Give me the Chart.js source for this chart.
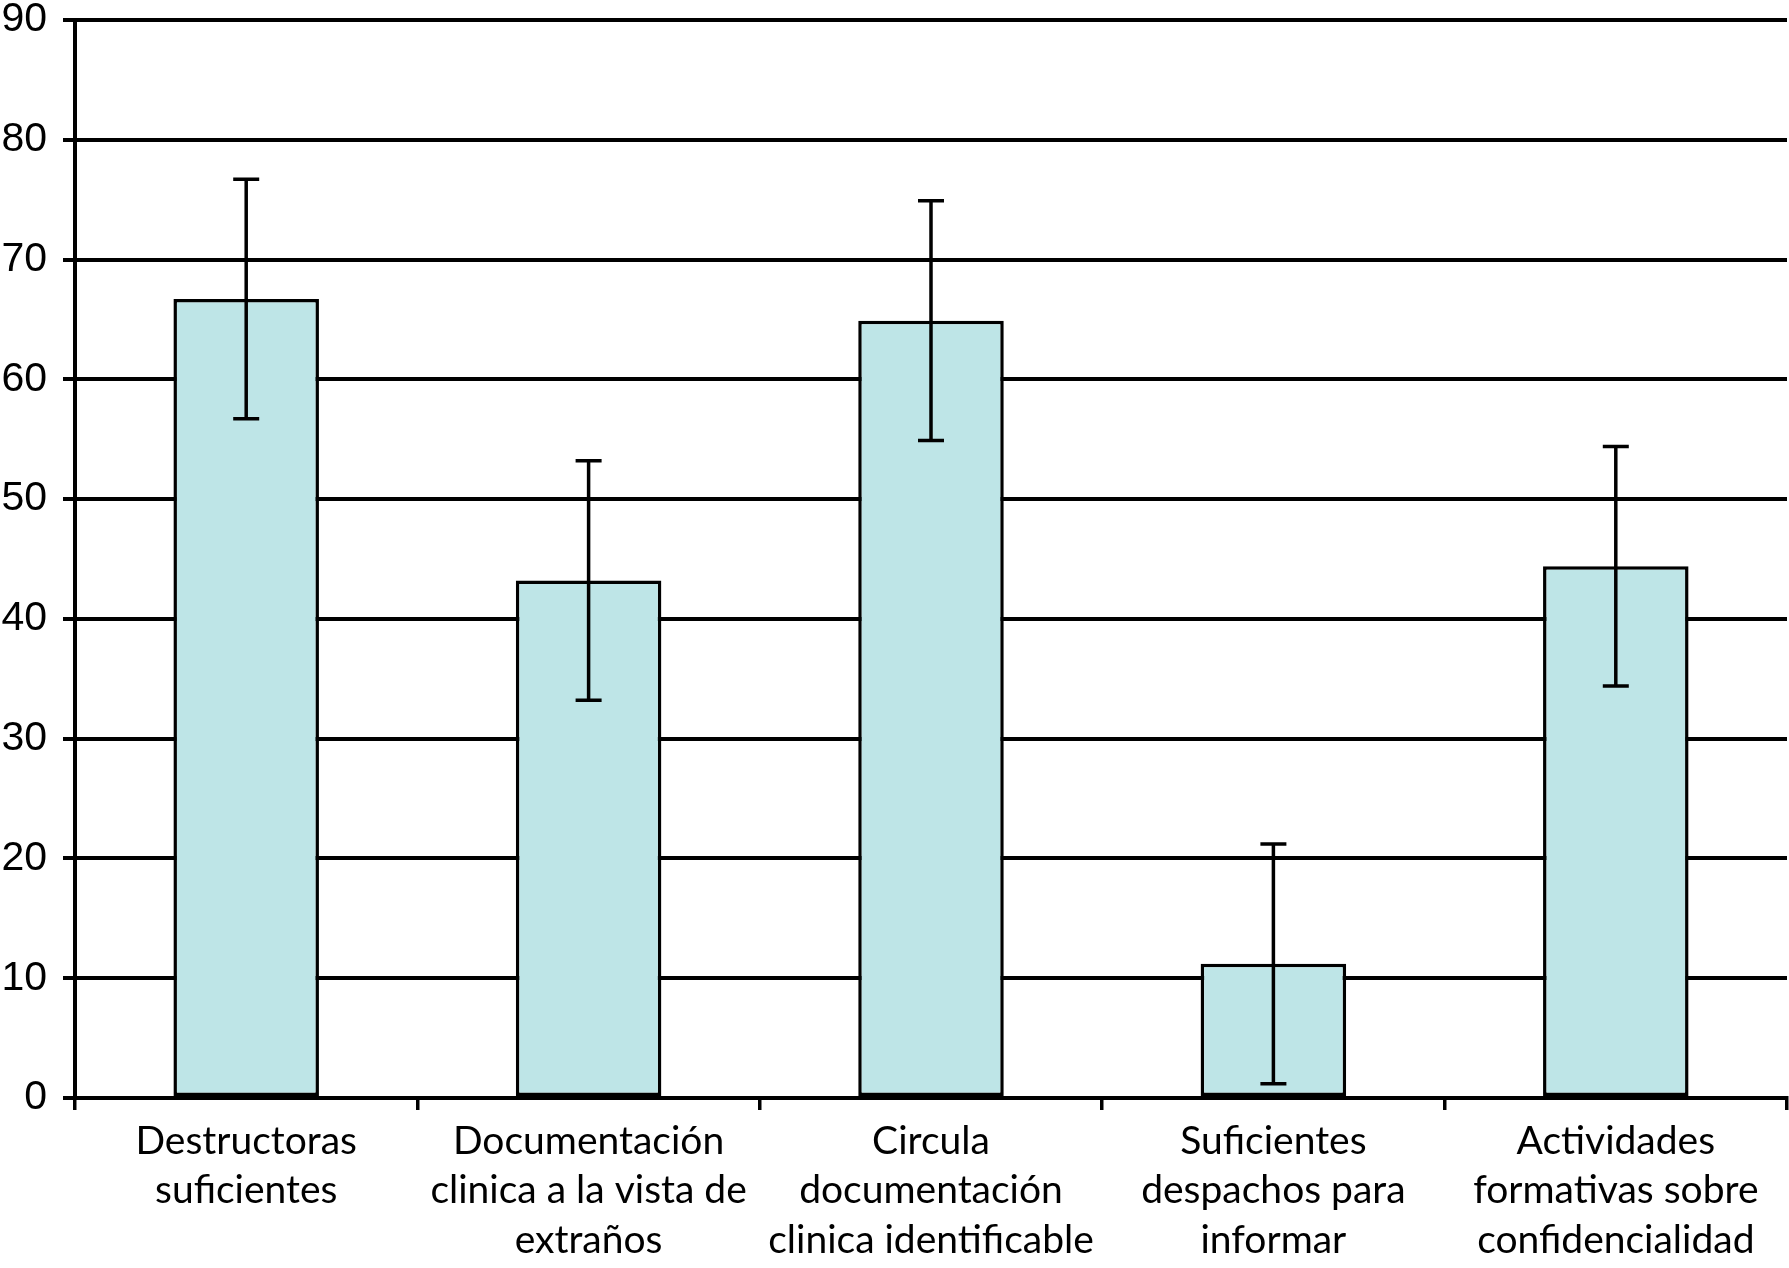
<!DOCTYPE html>
<html>
<head>
<meta charset="utf-8">
<script src="https://cdn.jsdelivr.net/npm/chart.js@4"></script>
<style>
  html, body { margin: 0; padding: 0; background: #fff; }
  #wrap { width: 1789px; height: 1268px; }
</style>
</head>
<body>
<div id="wrap"><canvas id="chart"></canvas></div>
<script>
// categories (multi-line labels as in the figure)
const categories = [
  ["Destructoras", "suficientes"],
  ["Documentación", "clinica a la vista de", "extraños"],
  ["Circula", "documentación", "clinica identificable"],
  ["Suficientes", "despachos para", "informar"],
  ["Actividades", "formativas sobre", "confidencialidad"],
];

// bar heights and error bar half-widths
const values = [66.7, 43.2, 64.9, 11.2, 44.4];
const errors = [10, 10, 10, 10, 10];

// y axis ticks
const yTicks = [0, 10, 20, 30, 40, 50, 60, 70, 80, 90];

// draws the vertical error bars with caps on top of the bars
const errorBars = {
  id: "errorBars",
  afterDatasetsDraw(chart) {
    const { ctx, scales } = chart;
    const xs = scales.x, ys = scales.y;
    const cap = 13;
    ctx.save();
    ctx.strokeStyle = "#000";
    ctx.lineWidth = 3.5;
    values.forEach((v, i) => {
      const x = xs.getPixelForValue(i);
      const top = ys.getPixelForValue(v + errors[i]);
      const bot = ys.getPixelForValue(v - errors[i]);
      ctx.beginPath();
      ctx.moveTo(x, top); ctx.lineTo(x, bot);
      ctx.moveTo(x - cap, top); ctx.lineTo(x + cap, top);
      ctx.moveTo(x - cap, bot); ctx.lineTo(x + cap, bot);
      ctx.stroke();
    });
    ctx.restore();
  },
};

const ctx = document.getElementById("chart").getContext("2d");

new Chart(ctx, {
  type: "bar",
  data: {
    labels: categories,
    datasets: [{
      data: values,
      backgroundColor: "#bee5e7",
      borderColor: "#000",
      borderWidth: 3.5,
      borderSkipped: false,
      categoryPercentage: 1,
      barPercentage: 0.425,
    }],
  },
  options: {
    responsive: true,
    maintainAspectRatio: false,
    animation: false,
    layout: { padding: { top: 20, right: 2, left: 0, bottom: 0 } },
    plugins: {
      legend: { display: false },
      tooltip: { enabled: false },
    },
    scales: {
      x: {
        afterFit(scale) { scale.height = 170; },
        grid: {
          offset: true,
          drawOnChartArea: false,
          drawTicks: true,
          tickLength: 12,
          color: "#000",
          lineWidth: 3.5,
        },
        border: { display: true, color: "#000", width: 4 },
        ticks: {
          color: "#000",
          maxRotation: 0,
          autoSkip: false,
          padding: 6,
          font: { family: "Lato", size: 39, lineHeight: 1.28 },
        },
      },
      y: {
        min: 0,
        max: 90,
        afterFit(scale) {
          scale.width = 75;
          scale.paddingTop = 0;
          scale.paddingBottom = 0;
        },
        afterBuildTicks(scale) { scale.ticks = yTicks.map(v => ({ value: v })); },
        grid: {
          color: "#000",
          lineWidth: 4,
          drawTicks: true,
          tickLength: 12,
        },
        border: { display: true, color: "#000", width: 4 },
        ticks: {
          color: "#000",
          padding: 16,
          font: { family: "Liberation Sans", size: 41, lineHeight: 1.0 },
        },
      },
    },
  },
  plugins: [errorBars],
});
</script>
</body>
</html>
